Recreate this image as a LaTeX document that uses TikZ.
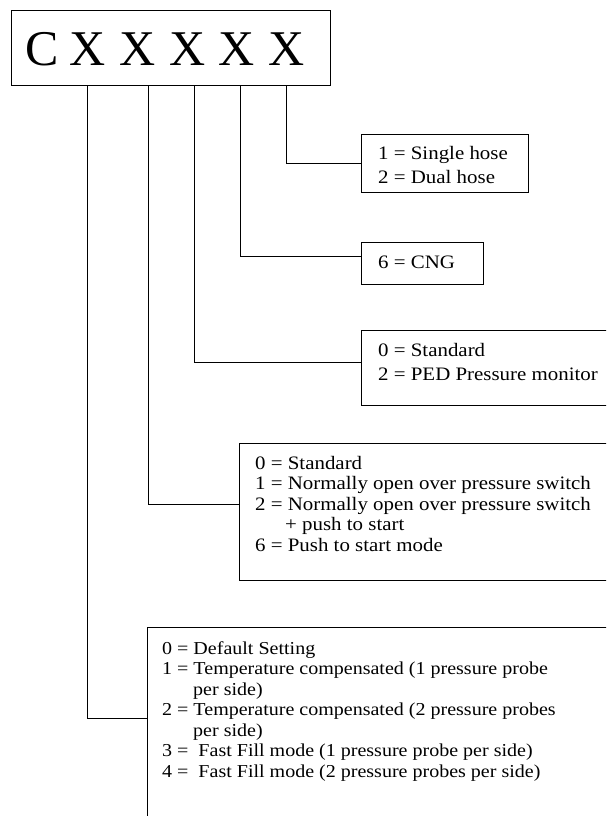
\documentclass[tikz,border=0pt]{standalone}
\usepackage{fontspec}
\setmainfont[FakeStretch=1.1]{Liberation Serif}
\newfontfamily\codefont{Liberation Serif}
\begin{document}
\begin{tikzpicture}[x=1pt,y=-1pt,
  box/.style={draw,line width=1pt,rectangle,anchor=north west,inner sep=0pt},
  entry/.style={anchor=base west,inner sep=0pt,font=\fontsize{19}{23}\selectfont},
  small entry/.style={entry,font=\fontsize{18.2}{22}\selectfont},
  letter/.style={anchor=base,inner sep=0pt,font=\codefont\fontsize{50}{60}\selectfont},
  wire/.style={line width=1pt}]
\useasboundingbox (0,0) rectangle (606,816);
\clip (0,0) rectangle (606,816);

% part-number code
\node[box,minimum width=319pt,minimum height=75pt] (code) at (11,10) {};
\foreach \ch/\xx [count=\i] in {C/42,X/88,X/138,X/188,X/237,X/287}
  \node[letter] (ch\i) at (\xx,66) {\ch};

% option boxes
\node[box,minimum width=167pt,minimum height=58pt] (b1) at (361,134) {};
\node[box,minimum width=122pt,minimum height=42pt] (b2) at (361,242) {};
\node[box,minimum width=260pt,minimum height=75pt] (b3) at (361,330) {};
\node[box,minimum width=382pt,minimum height=137pt] (b4) at (239,443) {};
\node[box,minimum width=474pt,minimum height=210pt] (b5) at (147,627) {};

% box texts
\node[entry] (b1a) at (378,159) {1 = Single hose};
\node[entry] (b1b) at (378,183) {2 = Dual hose};

\node[entry] (b2a) at (378,268) {6 = CNG};

\node[entry] (b3a) at (378,356) {0 = Standard};
\node[entry] (b3b) at (378,380) {2 = PED Pressure monitor};

\node[entry] (b4a) at (255,469) {0 = Standard};
\node[entry] (b4b) at (255,489.5) {1 = Normally open over pressure switch};
\node[entry] (b4c) at (255,510) {2 = Normally open over pressure switch};
\node[entry] (b4d) at (285,530.5) {+ push to start};
\node[entry] (b4e) at (255,551) {6 = Push to start mode};

\node[small entry] (b5a) at (162,654) {0 = Default Setting};
\node[small entry] (b5b) at (162,674.5) {1 = Temperature compensated (1 pressure probe};
\node[small entry] (b5c) at (193,695) {per side)};
\node[small entry] (b5d) at (162,715.5) {2 = Temperature compensated (2 pressure probes};
\node[small entry] (b5e) at (193,736) {per side)};
\node[small entry] (b5f) at (162,756.5) {3 = \ Fast Fill mode (1 pressure probe per side)};
\node[small entry] (b5g) at (162,777) {4 = \ Fast Fill mode (2 pressure probes per side)};

% connectors from the code to each option box
\draw[wire] ([xshift=275pt]code.south west) |- ([yshift=-29pt]b1.north west);
\draw[wire] ([xshift=229pt]code.south west) |- ([yshift=-14pt]b2.north west);
\draw[wire] ([xshift=183pt]code.south west) |- ([yshift=-32pt]b3.north west);
\draw[wire] ([xshift=137pt]code.south west) |- ([yshift=-61pt]b4.north west);
\draw[wire] ([xshift=76pt]code.south west) |- ([yshift=-91pt]b5.north west);
\end{tikzpicture}
\end{document}
